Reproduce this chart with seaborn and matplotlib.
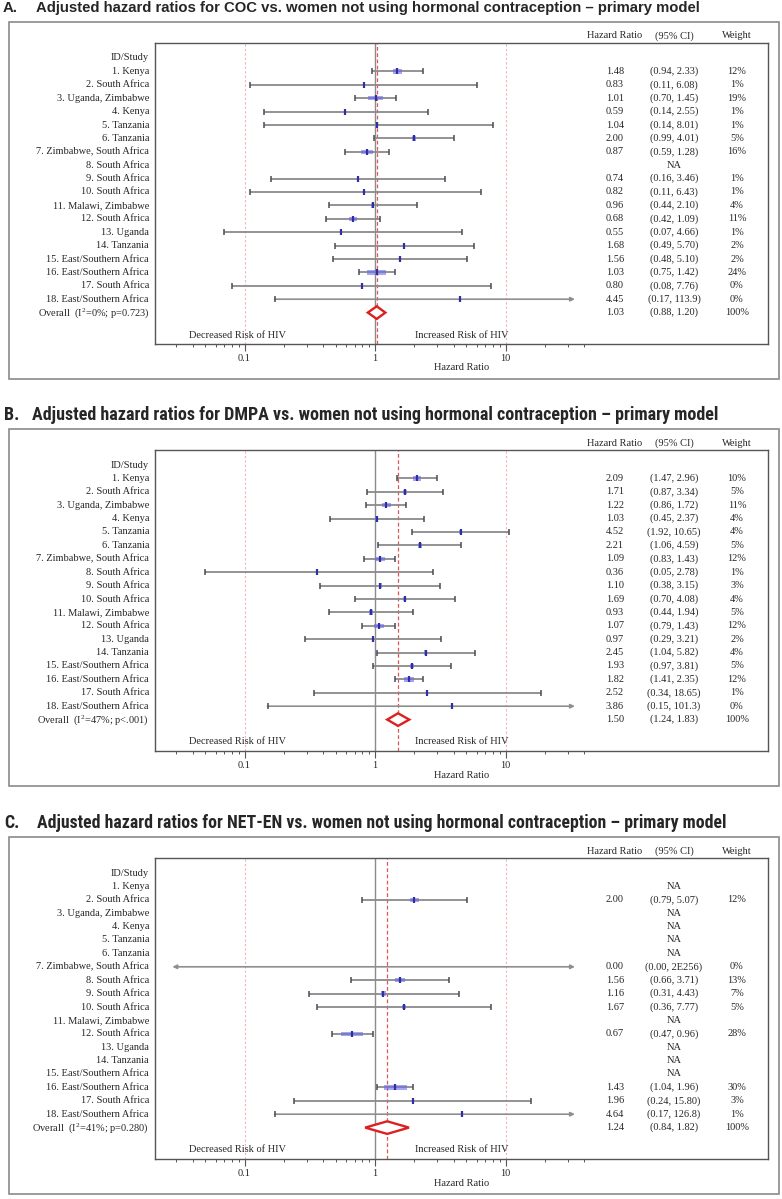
import numpy as np
import pandas as pd
import matplotlib
matplotlib.use("Agg")
import matplotlib.pyplot as plt
import matplotlib.transforms as mtransforms
from matplotlib import font_manager
from matplotlib.patches import Rectangle, Polygon
from matplotlib.ticker import FixedLocator, FixedFormatter, NullFormatter
import seaborn as sns

# ---------------- data ----------------
STUDIES = ["1. Kenya", "2. South Africa", "3. Uganda, Zimbabwe", "4. Kenya",
           "5. Tanzania", "6. Tanzania", "7. Zimbabwe, South Africa",
           "8. South Africa", "9. South Africa", "10. South Africa",
           "11. Malawi, Zimbabwe", "12. South Africa", "13. Uganda",
           "14. Tanzania", "15. East/Southern Africa", "16. East/Southern Africa",
           "17. South Africa", "18. East/Southern Africa"]
NA = np.nan

# A. COC
coc_hr = [1.48, 0.83, 1.01, 0.59, 1.04, 2.00, 0.87, NA, 0.74, 0.82, 0.96, 0.68, 0.55, 1.68, 1.56, 1.03, 0.80, 4.45]
coc_lo = [0.94, 0.11, 0.70, 0.14, 0.14, 0.99, 0.59, NA, 0.16, 0.11, 0.44, 0.42, 0.07, 0.49, 0.48, 0.75, 0.08, 0.17]
coc_hi = [2.33, 6.08, 1.45, 2.55, 8.01, 4.01, 1.28, NA, 3.46, 6.43, 2.10, 1.09, 4.66, 5.70, 5.10, 1.42, 7.76, 113.9]
coc_wt = [12, 1, 19, 1, 1, 5, 16, NA, 1, 1, 4, 11, 1, 2, 2, 24, 0, 0]
coc_overall = (1.03, 0.88, 1.20)
coc_label = "Overall  (I$^{2}$=0%; p=0.723)"

# B. DMPA
dmpa_hr = [2.09, 1.71, 1.22, 1.03, 4.52, 2.21, 1.09, 0.36, 1.10, 1.69, 0.93, 1.07, 0.97, 2.45, 1.93, 1.82, 2.52, 3.86]
dmpa_lo = [1.47, 0.87, 0.86, 0.45, 1.92, 1.06, 0.83, 0.05, 0.38, 0.70, 0.44, 0.79, 0.29, 1.04, 0.97, 1.41, 0.34, 0.15]
dmpa_hi = [2.96, 3.34, 1.72, 2.37, 10.65, 4.59, 1.43, 2.78, 3.15, 4.08, 1.94, 1.43, 3.21, 5.82, 3.81, 2.35, 18.65, 101.3]
dmpa_wt = [10, 5, 11, 4, 4, 5, 12, 1, 3, 4, 5, 12, 2, 4, 5, 12, 1, 0]
dmpa_overall = (1.50, 1.24, 1.83)
dmpa_label = "Overall  (I$^{2}$=47%; p<.001)"

# C. NET-EN
net_hr = [NA, 2.00, NA, NA, NA, NA, 0.00, 1.56, 1.16, 1.67, NA, 0.67, NA, NA, NA, 1.43, 1.96, 4.64]
net_lo = [NA, 0.79, NA, NA, NA, NA, 0.00, 0.66, 0.31, 0.36, NA, 0.47, NA, NA, NA, 1.04, 0.24, 0.17]
net_hi = [NA, 5.07, NA, NA, NA, NA, 2e256, 3.71, 4.43, 7.77, NA, 0.96, NA, NA, NA, 1.96, 15.80, 126.8]
net_wt = [NA, 12, NA, NA, NA, NA, 0, 13, 7, 5, NA, 28, NA, NA, NA, 30, 3, 1]
net_overall = (1.24, 0.84, 1.82)
net_label = "Overall  (I$^{2}$=41%; p=0.280)"

TITLES = [
    ("A.", "Adjusted hazard ratios for COC vs. women not using hormonal contraception \u2013 primary model"),
    ("B.", "Adjusted hazard ratios for DMPA vs. women not using hormonal contraception \u2013 primary model"),
    ("C.", "Adjusted hazard ratios for NET-EN vs. women not using hormonal contraception \u2013 primary model"),
]

# ---------------- style ----------------
sns.set_theme(style="white")
plt.rcParams["font.family"] = ["Liberation Serif", "DejaVu Serif"]
plt.rcParams["mathtext.fontset"] = "custom"
plt.rcParams["mathtext.rm"] = "Liberation Serif"
plt.rcParams["mathtext.it"] = "Liberation Serif:italic"

# B and C titles are set in a narrow bold face; take a condensed one if any is installed
def pick_condensed():
    fonts = font_manager.fontManager.ttflist
    names = {f.name for f in fonts}
    for n in ["Liberation Sans Narrow", "Arial Narrow", "Roboto Condensed", "Open Sans Condensed"]:
        if n in names:
            return dict(family=[n, "DejaVu Sans"])
    for pref in ["Noto Sans", "Roboto", "Open Sans", "DejaVu Sans", "Inter"]:
        for f in fonts:
            if f.name == pref and str(f.stretch) in ("condensed", "semi-condensed", "extra-condensed"):
                return dict(family=[pref, "DejaVu Sans"], fontstretch=f.stretch)
    for f in fonts:
        if "condensed" in f.name.lower() or "narrow" in f.name.lower():
            return dict(family=[f.name, "DejaVu Sans"])
    return dict(family=["Liberation Sans", "DejaVu Sans"])

WIDE_KW = dict(family=["Liberation Sans", "DejaVu Sans"], fontweight="bold")
NARROW_KW = dict(pick_condensed(), fontweight="bold")

FS = 7.5
CI_COL = "#8a8a8e"
CAP_COL = "#4a4a58"
BOX_COL = "#6a6ae6"
TICK_COL = "#2f2fa5"
SPINE_COL = "#555555"

W, H, DPI = 782, 1199, 100
fig = plt.figure(figsize=(W / DPI, H / DPI), dpi=DPI)
fig.patch.set_facecolor("white")
renderer = fig.canvas.get_renderer()

def fx(px):
    return px / W

def fy(py):
    return 1 - py / H

PANEL_TOP = [8, 415, 823]
TITLE_X = [(3, 36, 705), (4, 32, 720), (4, 37, 727)]
ROW0, ROW_H = 50, 13.4
INNER_L, INNER_R = 155, 768
INNER_T, INNER_B = 35, 336
XLIM = (0.0206, 1026)
ARROW_LO, ARROW_HI = 0.028, 34
DECADE_PX = (INNER_R - INNER_L) / np.log10(XLIM[1] / XLIM[0])
BOX_PX_PER_PCT = 0.78
BOX_H = 0.34
COL_HR, COL_CI, COL_WT = 615, 674, 737

def row_of(py):
    return (py - ROW0) / ROW_H

def ax_frac(px):
    return (px - INNER_L) / (INNER_R - INNER_L)

def fmt(v):
    if v >= 1e4:
        m, e = f"{v:.0E}".split("E")
        return f"{m}E{int(e)}"
    if v >= 100:
        return f"{v:.1f}"
    return f"{v:.2f}"


def draw_title(top, letter, title, xs, kw):
    lx, tx, tend = xs
    t = fig.text(fx(tx), fy(top), title, va="center", ha="left", fontsize=10, **kw)
    w = t.get_window_extent(renderer).width
    size = 10 * (tend - tx) / w
    t.set_fontsize(size)
    fig.text(fx(lx), fy(top), letter, va="center", ha="left", fontsize=size, **kw)


def draw_panel(top, hr, lo, hi, wt, overall, ov_label):
    fig.add_artist(Rectangle((fx(9), fy(top + 371)), (779 - 9) / W, (371 - 14) / H,
                             transform=fig.transFigure, fill=False, ec="#8a8a8a", lw=1.2))

    ax = fig.add_axes([fx(INNER_L), fy(top + INNER_B),
                       (INNER_R - INNER_L) / W, (INNER_B - INNER_T) / H])
    ax.set_xscale("log")
    ax.set_xlim(*XLIM)
    ax.set_ylim(row_of(INNER_B), row_of(INNER_T))
    ax.set_yticks([])
    for s in ax.spines.values():
        s.set_color(SPINE_COL)
        s.set_linewidth(1.0)

    ax.xaxis.set_major_locator(FixedLocator([0.1, 1, 10]))
    ax.xaxis.set_major_formatter(FixedFormatter(["0.1", "1", "10"]))
    minors = [k * 10.0 ** e for e in (-2, -1, 0, 1) for k in range(2, 10)]
    minors = [m for m in minors if 0.02 <= m <= 40]
    ax.xaxis.set_minor_locator(FixedLocator(minors))
    ax.xaxis.set_minor_formatter(NullFormatter())
    ax.tick_params(axis="x", which="major", length=5, width=0.8, color=SPINE_COL,
                   direction="out", pad=2, labelsize=FS, bottom=True)
    ax.tick_params(axis="x", which="minor", length=2.5, width=0.7, color=SPINE_COL,
                   direction="out", bottom=True)

    # reference lines
    ov_hr, ov_lo, ov_hi = overall
    for ref in (0.1, 10):
        ax.axvline(ref, color="#f0b4b4", lw=0.8, ls=(0, (2, 2)), zorder=1)
    ax.axvline(1, color="#8c8c8c", lw=1.0, zorder=1)
    ax.axvline(ov_hr, color="#e05555", lw=0.9, ls=(0, (3, 2)), zorder=1)

    trans = mtransforms.blended_transform_factory(ax.transAxes, ax.transData)
    def cell(px, y, s, ha="center"):
        ax.text(ax_frac(px), y, s, transform=trans, ha=ha, va="center", fontsize=FS)

    cell(149, 0, "ID/Study", ha="right")
    yh = row_of(28)
    cell(COL_HR, yh, "Hazard Ratio")
    cell(COL_CI, yh, "(95% CI)")
    cell(COL_WT, yh, "Weight")

    pts = []
    for i, name in enumerate(STUDIES):
        y = i + 1
        cell(149, y, name, ha="right")
        if np.isnan(hr[i]):
            cell(COL_CI, y, "NA")
            continue
        cell(COL_HR, y, fmt(hr[i]))
        cell(COL_CI, y, f"({fmt(lo[i])}, {fmt(hi[i])})")
        cell(COL_WT, y, f"{int(wt[i])}%")

        left_arrow = lo[i] < ARROW_LO
        right_arrow = hi[i] > ARROW_HI
        l = ARROW_LO if left_arrow else lo[i]
        r = ARROW_HI if right_arrow else hi[i]
        if left_arrow or right_arrow:
            style = "<|-|>" if (left_arrow and right_arrow) else ("<|-" if left_arrow else "-|>")
            ax.annotate("", xy=(r, y), xytext=(l, y),
                        arrowprops=dict(arrowstyle=style, color="#8e8e8e", lw=1.2,
                                        mutation_scale=6, shrinkA=0, shrinkB=0), zorder=2)
        else:
            ax.hlines(y, l, r, color=CI_COL, lw=1.3, zorder=2)
        caps = ([] if left_arrow else [l]) + ([] if right_arrow else [r])
        if caps:
            ax.scatter(caps, [y] * len(caps), marker="|", s=16, color=CAP_COL, linewidths=1.1, zorder=3)

        if hr[i] > 0:
            hw = BOX_PX_PER_PCT * wt[i] / 2 / DECADE_PX
            if hw > 0:
                bl, br = hr[i] * 10 ** -hw, hr[i] * 10 ** hw
                ax.barh(y, br - bl, left=bl, height=BOX_H, color=BOX_COL, alpha=0.6,
                        linewidth=0, zorder=3)
            pts.append((hr[i], y))

    df = pd.DataFrame(pts, columns=["hr", "row"])
    sns.scatterplot(data=df, x="hr", y="row", marker="|", s=22, color=TICK_COL,
                    linewidth=1.6, ax=ax, zorder=4, legend=False)
    ax.set_xlabel("")
    ax.set_ylabel("")

    # overall diamond
    yo = len(STUDIES) + 1
    ax.add_patch(Polygon([(ov_lo, yo), (ov_hr, yo - 0.47), (ov_hi, yo), (ov_hr, yo + 0.47)],
                         closed=True, fc="white", ec="#dd1f1f", lw=1.7, zorder=5))
    cell(149, yo, ov_label, ha="right")
    cell(COL_HR, yo, fmt(ov_hr))
    cell(COL_CI, yo, f"({fmt(ov_lo)}, {fmt(ov_hi)})")
    cell(COL_WT, yo, "100%")

    yr = row_of(INNER_B - 9)
    ax.text(0.089, yr, "Decreased Risk of HIV", ha="center", va="center", fontsize=FS)
    ax.text(4.64, yr, "Increased Risk of HIV", ha="center", va="center", fontsize=FS)
    ax.text(0.5, -24 / (INNER_B - INNER_T), "Hazard Ratio", transform=ax.transAxes,
            ha="center", va="center", fontsize=FS)
    return ax


panels = [
    (coc_hr, coc_lo, coc_hi, coc_wt, coc_overall, coc_label),
    (dmpa_hr, dmpa_lo, dmpa_hi, dmpa_wt, dmpa_overall, dmpa_label),
    (net_hr, net_lo, net_hi, net_wt, net_overall, net_label),
]
title_kws = [WIDE_KW, NARROW_KW, NARROW_KW]
for top, (letter, title), xs, kw, p in zip(PANEL_TOP, TITLES, TITLE_X, title_kws, panels):
    draw_title(top, letter, title, xs, kw)
    draw_panel(top, *p)

fig.savefig("out.png", dpi=DPI, facecolor="white")
